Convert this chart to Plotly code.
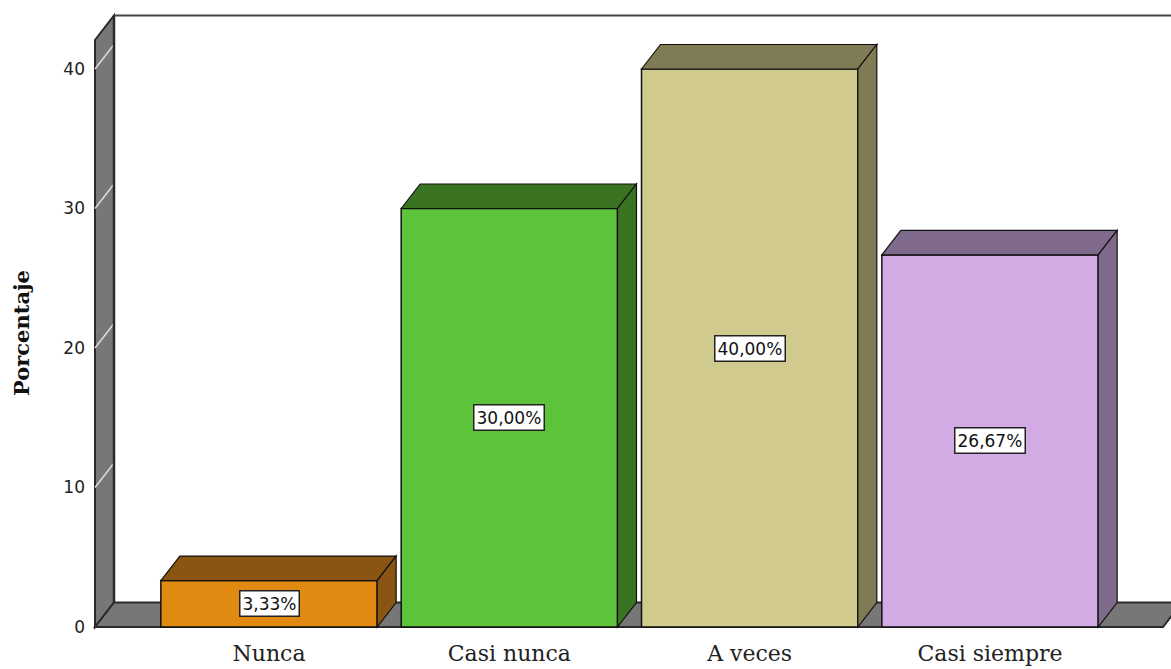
import plotly.graph_objects as go

# --- data ---
categories = ["Nunca", "Casi nunca", "A veces", "Casi siempre"]
percentages = [3.33, 30.00, 40.00, 26.67]
y_ticks = [0, 10, 20, 30, 40]

front_colors = ["#E08A12", "#5CC33A", "#D0CA8E", "#D2AAE4"]
shade_colors = ["#8A5512", "#3A7422", "#7E7B55", "#7F6A8B"]

# --- geometry of the pseudo-3D frame (pixels -> axis units) ---
W, H = 1171, 669
M_L, M_B = 90, 37
PX_PER_CAT = 240.33          # horizontal pixels per category step
PX_PER_PCT = 13.95           # vertical pixels per percentage point
CENTER0_PX = 269             # pixel x of first category centre
ZERO_PX = 627                # pixel y of the zero line
BAR_W = 0.9

x_lo = (M_L - CENTER0_PX) / PX_PER_CAT
x_hi = (W - CENTER0_PX) / PX_PER_CAT
y_lo = -(H - M_B - ZERO_PX) / PX_PER_PCT
y_hi = ZERO_PX / PX_PER_PCT

DX = 19 / PX_PER_CAT          # depth offset, horizontal
DY = 24.5 / PX_PER_PCT        # depth offset, vertical
WALL_X = (95 - CENTER0_PX) / PX_PER_CAT
WALL_TOP = (ZERO_PX - 40) / PX_PER_PCT
FLOOR_X = (1163 - CENTER0_PX) / PX_PER_CAT

EDGE = "#2a2a2a"
GRAY = "#777777"


def poly(pts):
    return "M " + " L ".join(f"{x},{y}" for x, y in pts) + " Z"


shapes = []
# left wall
shapes.append(dict(type="path", xref="x", yref="y", layer="below",
                   path=poly([(WALL_X, 0), (WALL_X, WALL_TOP),
                              (WALL_X + DX, WALL_TOP + DY), (WALL_X + DX, DY)]),
                   fillcolor=GRAY, line=dict(color=EDGE, width=2)))
# floor
shapes.append(dict(type="path", xref="x", yref="y", layer="below",
                   path=poly([(WALL_X, 0), (FLOOR_X, 0),
                              (FLOOR_X + DX, DY), (WALL_X + DX, DY)]),
                   fillcolor=GRAY, line=dict(color=EDGE, width=2)))
# tick marks running across the wall
for t in y_ticks[1:]:
    shapes.append(dict(type="line", xref="x", yref="y", layer="below",
                       x0=WALL_X, y0=t, x1=WALL_X + DX, y1=t + DY,
                       line=dict(color="#dcdcdc", width=1.5)))
# back edge of the wall and top frame line
shapes.append(dict(type="line", xref="x", yref="y", layer="below",
                   x0=WALL_X + DX, y0=DY, x1=WALL_X + DX, y1=WALL_TOP + DY,
                   line=dict(color=EDGE, width=2.5)))
shapes.append(dict(type="line", xref="x", yref="y", layer="below",
                   x0=WALL_X + DX, y0=WALL_TOP + DY, x1=x_hi + 1, y1=WALL_TOP + DY,
                   line=dict(color="#444444", width=2)))

# top and side faces of every bar
for i, v in enumerate(percentages):
    xl, xr = i - BAR_W / 2, i + BAR_W / 2
    shapes.append(dict(type="path", xref="x", yref="y", layer="above",
                       path=poly([(xl, v), (xl + DX, v + DY), (xr + DX, v + DY), (xr, v)]),
                       fillcolor=shade_colors[i], line=dict(color="#111111", width=1.2)))
    shapes.append(dict(type="path", xref="x", yref="y", layer="above",
                       path=poly([(xr, 0), (xr, v), (xr + DX, v + DY), (xr + DX, DY)]),
                       fillcolor=shade_colors[i], line=dict(color="#111111", width=1.2)))

fig = go.Figure()
fig.add_trace(go.Bar(
    x=list(range(len(categories))), y=percentages, width=BAR_W,
    marker=dict(color=front_colors, line=dict(color="#111111", width=1.5)),
    hoverinfo="skip",
))

annotations = []
for i, v in enumerate(percentages):
    annotations.append(dict(
        x=i, y=v / 2, xref="x", yref="y", showarrow=False,
        text=f"{v:.2f}".replace(".", ",") + "%",
        font=dict(family="DejaVu Sans", size=17, color="#111111"),
        bgcolor="white", bordercolor="#222222", borderwidth=1.5, borderpad=2,
    ))
annotations.append(dict(
    x=-(M_L - 22) / (W - M_L), y=(H - M_B - 333) / (H - M_B),
    xref="paper", yref="paper", xanchor="center", yanchor="middle",
    showarrow=False, textangle=-90,
    text="<b>Porcentaje</b>",
    font=dict(family="DejaVu Serif", size=21, color="#111111"),
))

fig.update_layout(
    width=W, height=H,
    margin=dict(l=M_L, r=0, t=0, b=M_B),
    paper_bgcolor="white", plot_bgcolor="white",
    showlegend=False,
    shapes=shapes, annotations=annotations,
    xaxis=dict(range=[x_lo, x_hi], tickvals=list(range(len(categories))),
               ticktext=categories, showgrid=False, zeroline=False, showline=False,
               ticks="", ticklabelstandoff=6,
               tickfont=dict(family="DejaVu Serif", size=22, color="#222222")),
    yaxis=dict(range=[y_lo, y_hi], tickvals=y_ticks,
               showgrid=False, zeroline=False, showline=False,
               ticks="", ticklabelstandoff=4,
               tickfont=dict(family="DejaVu Sans", size=17, color="#222222")),
)

fig.write_html("out.html")
